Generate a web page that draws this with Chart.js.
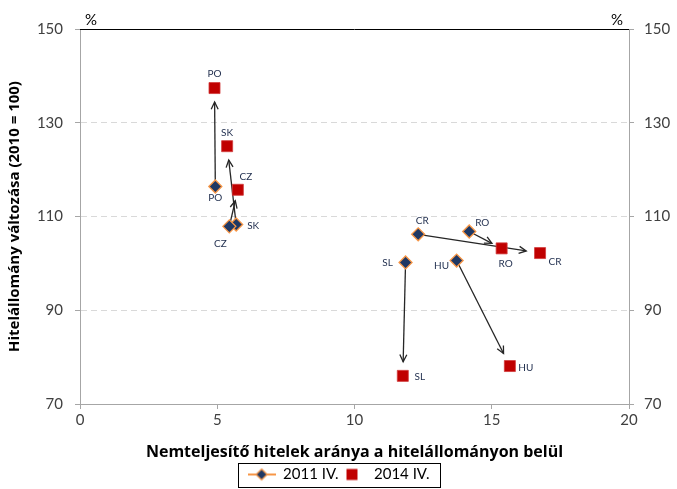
<!DOCTYPE html>
<html><head><meta charset="utf-8">
<script src="https://cdn.jsdelivr.net/npm/chart.js@4/dist/chart.umd.min.js"></script>
<style>html,body{margin:0;padding:0;background:#fff}#wrap{width:677px;height:489px;position:relative}</style>
</head><body><div id="wrap"><canvas id="c" width="677" height="489"></canvas></div>
<script>
// ---- data ----
const countries = ['PO','SK','CZ','CR','RO','SL','HU'];
const npl2011    = [4.93, 5.69, 5.44, 12.32, 14.18, 11.86, 13.72];
const credit2011 = [116.4, 108.3, 107.9, 106.2, 106.8, 100.2, 100.6];
const npl2014    = [4.90, 5.36, 5.75, 16.76, 15.36, 11.76, 15.66];
const credit2014 = [137.4, 125.0, 115.7, 102.2, 103.2, 76.0, 78.1];
const seriesNames = ['2011 IV.', '2014 IV.'];
const yTickValues = [70, 90, 110, 130, 150];
const xTickValues = [0, 5, 10, 15, 20];
const xTitle = 'Nemteljesítő hitelek aránya a hitelállományon belül';
const yTitle = 'Hitelállomány változása (2010 = 100)';
const unitLabel = '%';

// label offsets (layout only)
const labelOffset2011 = [[0,11],[17,1],[-9,17],[4,-14],[13,-9],[-18,0],[-15,5]];
const labelOffset2014 = [[0,-14],[0,-13],[8,-13],[15,9],[4,15],[17,1],[16,2]];

const FONT = 'Lato, "DejaVu Sans", sans-serif';
const TFONT = '"Open Sans", Lato, sans-serif';
const NAVY = '#1F3864', ORANGE = '#F79646', RED = '#C00000';

function makeDiamondLine(){
  const c = document.createElement('canvas'); c.width = 28; c.height = 14;
  const g = c.getContext('2d');
  g.strokeStyle = ORANGE; g.lineWidth = 2;
  g.beginPath(); g.moveTo(0,7); g.lineTo(28,7); g.stroke();
  g.fillStyle = NAVY; g.strokeStyle = ORANGE; g.lineWidth = 1.2;
  g.beginPath(); g.moveTo(14,1.5); g.lineTo(19.5,7); g.lineTo(14,12.5); g.lineTo(8.5,7); g.closePath(); g.fill(); g.stroke();
  return c;
}
function makeSquare(){
  const c = document.createElement('canvas'); c.width = 28; c.height = 14;
  const g = c.getContext('2d');
  g.fillStyle = RED; g.fillRect(8,1.5,11,11);
  return c;
}

const pts2011 = npl2011.map((x,i)=>({x, y: credit2011[i]}));
const pts2014 = npl2014.map((x,i)=>({x, y: credit2014[i]}));

const arrowPlugin = {
  id: 'arrows',
  beforeDatasetsDraw(chart){
    const {ctx, scales:{x, y}} = chart;
    ctx.save();
    ctx.strokeStyle = '#262626'; ctx.lineWidth = 1.3;
    for (let i = 0; i < countries.length; i++){
      const x0 = x.getPixelForValue(npl2011[i]), y0 = y.getPixelForValue(credit2011[i]);
      const x1 = x.getPixelForValue(npl2014[i]), y1 = y.getPixelForValue(credit2014[i]);
      const ang = Math.atan2(y1-y0, x1-x0);
      const len = Math.hypot(x1-x0, y1-y0);
      const shrink = Math.min(14, len*0.3);
      const ex = x1 - Math.cos(ang)*shrink, ey = y1 - Math.sin(ang)*shrink;
      ctx.beginPath(); ctx.moveTo(x0,y0); ctx.lineTo(ex,ey); ctx.stroke();
      const h = 8, a = 0.45;
      ctx.beginPath();
      ctx.moveTo(ex - h*Math.cos(ang-a), ey - h*Math.sin(ang-a));
      ctx.lineTo(ex, ey);
      ctx.lineTo(ex - h*Math.cos(ang+a), ey - h*Math.sin(ang+a));
      ctx.stroke();
    }
    ctx.restore();
  },
  afterDatasetsDraw(chart){
    const {ctx, scales:{x, y}} = chart;
    ctx.save();
    ctx.font = '10px ' + FONT;
    ctx.fillStyle = '#1F2D4D';
    ctx.textAlign = 'center'; ctx.textBaseline = 'middle';
    countries.forEach((c,i)=>{
      const a = labelOffset2011[i], b = labelOffset2014[i];
      ctx.fillText(c, x.getPixelForValue(npl2011[i]) + a[0], y.getPixelForValue(credit2011[i]) + a[1]);
      ctx.fillText(c, x.getPixelForValue(npl2014[i]) + b[0], y.getPixelForValue(credit2014[i]) + b[1]);
    });
    ctx.restore();
  },
  afterDraw(chart){
    const {ctx, chartArea:ca} = chart;
    ctx.save();
    ctx.strokeStyle = '#000'; ctx.lineWidth = 1;
    ctx.beginPath(); ctx.moveTo(ca.left, ca.top+0.5); ctx.lineTo(ca.right, ca.top+0.5); ctx.stroke();
    ctx.fillStyle = '#000'; ctx.font = '15px ' + FONT;
    ctx.textAlign = 'center'; ctx.textBaseline = 'bottom';
    ctx.fillText(unitLabel, ca.left + 11, ca.top - 1);
    ctx.fillText(unitLabel, ca.right - 12, ca.top - 1);
    const lg = chart.legend;
    if (lg && lg.legendHitBoxes && lg.legendHitBoxes.length){
      const hb = lg.legendHitBoxes;
      const l = hb[0].left - 10, r = hb[hb.length-1].left + hb[hb.length-1].width + 10;
      const t = hb[0].top - 4, b = hb[0].top + hb[0].height + 6;
      ctx.strokeStyle = '#000'; ctx.lineWidth = 1;
      ctx.strokeRect(Math.round(l)+0.5, Math.round(t)+0.5, Math.round(r-l), Math.min(Math.round(b-t), chart.height - Math.round(t) - 2));
    }
    ctx.restore();
  }
};

const tickFont = {family: FONT, size: 15};
const gridColorFn = (ctx) => (ctx.tick && (ctx.tick.value === 70 || ctx.tick.value === 150)) ? 'rgba(0,0,0,0)' : '#D9D9D9';

new Chart(document.getElementById('c'), {
  type: 'scatter',
  data: {
    datasets: [
      { label: seriesNames[0], data: pts2011, pointStyle: 'rectRot', pointRadius: 6.5, pointHoverRadius: 6.5,
        backgroundColor: NAVY, borderColor: ORANGE, pointBorderWidth: 1.3 },
      { label: seriesNames[1], data: pts2014, pointStyle: 'rect', pointRadius: 7.8, pointHoverRadius: 7.8,
        backgroundColor: RED, borderColor: '#D23B3B', pointBorderWidth: 0.8 }
    ]
  },
  options: {
    responsive: false,
    animation: false,
    devicePixelRatio: 1,
    layout: { padding: { top: 29, bottom: -3, left: 0, right: 0 } },
    plugins: {
      tooltip: { enabled: false },
      legend: {
        position: 'bottom',
        labels: {
          font: {family: FONT, size: 15}, color: '#000', padding: 0,
          usePointStyle: true, pointStyleWidth: 28,
          generateLabels: (chart) => [
            { text: seriesNames[0], pointStyle: makeDiamondLine(), datasetIndex: 0, fillStyle: NAVY, strokeStyle: ORANGE, lineWidth: 0 },
            { text: seriesNames[1], pointStyle: makeSquare(), datasetIndex: 1, fillStyle: RED, strokeStyle: RED, lineWidth: 0 }
          ]
        }
      }
    },
    scales: {
      x: {
        type: 'linear', min: 0, max: 20,
        afterBuildTicks: (s) => { s.ticks = xTickValues.map(v => ({value: v})); },
        ticks: { font: tickFont, color: '#404040', padding: 2 },
        grid: { drawOnChartArea: false, tickLength: 5, color: '#A6A6A6', tickColor: '#A6A6A6' },
        border: { color: '#A6A6A6', width: 1 },
        title: { display: true, text: xTitle, font: {family: TFONT, size: 16, weight: 'bold'}, color: '#000', padding: {top: 0, bottom: 5} },
        afterFit: (s) => { s.height = 63; }
      },
      y: {
        position: 'left', min: 70, max: 150,
        afterBuildTicks: (s) => { s.ticks = yTickValues.map(v => ({value: v})); },
        ticks: { font: tickFont, color: '#404040', padding: 12 },
        grid: { color: gridColorFn, tickColor: '#A6A6A6', tickLength: 5, lineWidth: 1 },
        border: { color: '#A6A6A6', width: 1, dash: [6, 4] },
        title: { display: true, text: yTitle, font: {family: TFONT, size: 15, weight: 'bold'}, color: '#000', padding: {top: 6, bottom: 0} },
        afterFit: (s) => { s.width = 80; }
      },
      y2: {
        position: 'right', min: 70, max: 150,
        afterBuildTicks: (s) => { s.ticks = yTickValues.map(v => ({value: v})); },
        ticks: { font: tickFont, color: '#404040', padding: 10 },
        grid: { drawOnChartArea: false, tickColor: '#A6A6A6', tickLength: 5 },
        border: { color: '#A6A6A6', width: 1 },
        afterFit: (s) => { s.width = 48; }
      }
    }
  },
  plugins: [arrowPlugin]
});
</script>
</body></html>
